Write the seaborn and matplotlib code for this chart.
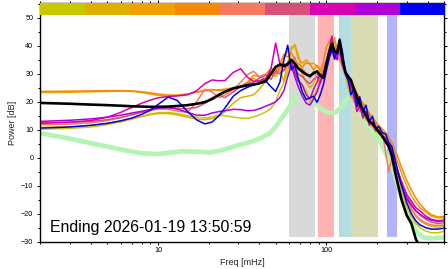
import numpy as np
import pandas as pd
import matplotlib
matplotlib.use("Agg")
import matplotlib.pyplot as plt
from matplotlib.ticker import LogLocator, MultipleLocator, NullFormatter, FixedLocator, FixedFormatter
import seaborn as sns

# ---------------- data ----------------
freq = [2, 3, 4, 5, 6, 7, 8, 9, 10, 11.5, 13, 15, 17, 19, 21, 23, 25, 28, 31, 34, 37, 40,
        44, 47, 50, 53, 56, 59, 62, 65, 68, 72, 76, 80, 84, 88, 92, 96, 100,
        104, 108, 112, 116, 120, 125, 130, 135, 140, 146, 152, 158, 165, 172, 180, 188, 196,
        205, 215, 225, 235, 245, 255, 265, 280, 300, 320, 340, 360, 390, 420, 460, 500]

yellow = [10.2, 10.5, 11.0, 11.8, 12.8, 13.8, 14.8, 15.6, 16.1, 16.2, 15.8, 15.0, 14.5, 14.2, 14.6, 15.2, 15.0, 14.5, 14.2, 14.1, 14.6, 15.3,
          16.5, 17.7, 20.0, 24.0, 27.0, 31.0, 34.5, 32.0, 28.5, 26.0, 24.0, 19.5, 22.0, 24.5, 28.0, 31.0, 34.0,
          37.0, 39.0, 38.0, 36.5, 38.5, 33.0, 29.0, 25.0, 21.5, 22.0, 19.0, 17.5, 15.0, 14.0, 12.0, 11.0, 9.5,
          8.5, 7.0, 5.5, 4.0, 1.5, -2.5, -6.5, -12.0, -17.5, -21.0, -23.5, -25.0, -26.2, -26.8, -26.8, -26.3]

goldenrod = [10.8, 11.1, 11.6, 12.3, 13.1, 14.0, 14.8, 15.4, 15.8, 15.8, 15.3, 14.5, 13.8, 13.6, 14.0, 14.8, 16.5, 19.5, 21.5, 22.0, 22.5, 24.5,
             27.5, 30.0, 29.0, 31.5, 27.3, 34.0, 38.5, 40.5, 37.0, 30.0, 27.0, 25.0, 26.5, 29.5, 31.0, 30.0, 32.5,
             36.0, 39.5, 41.5, 37.0, 38.0, 34.0, 30.5, 27.5, 25.0, 23.5, 20.5, 19.0, 16.5, 15.0, 13.5, 12.0, 10.8,
             9.5, 8.0, 6.5, 5.0, 2.8, -0.5, -4.0, -9.0, -14.5, -18.5, -21.0, -22.5, -23.8, -24.5, -24.8, -24.5]

orange = [23.3, 23.4, 23.6, 23.7, 23.8, 23.7, 23.3, 22.8, 22.3, 22.0, 22.2, 22.8, 23.5, 24.2, 24.4, 24.0, 24.0, 24.6, 25.5, 26.5, 28.5, 27.0,
          28.5, 31.0, 30.0, 32.0, 35.5, 38.0, 39.5, 40.0, 35.5, 33.8, 35.0, 33.5, 33.8, 32.8, 32.0, 28.0, 33.0,
          37.5, 41.0, 43.0, 38.5, 37.0, 32.5, 29.5, 28.0, 26.0, 24.5, 22.0, 20.5, 18.5, 16.8, 15.5, 13.5, 12.0,
          10.5, 9.0, 7.5, 6.0, 3.8, 1.0, -1.5, -5.5, -10.0, -13.5, -16.0, -17.8, -19.5, -20.8, -21.5, -21.5]

darkorange = [23.7, 23.8, 23.9, 24.0, 24.0, 23.9, 23.6, 23.2, 22.8, 22.4, 22.4, 22.8, 23.4, 23.9, 24.2, 24.3, 24.5, 25.0, 25.5, 27.0, 29.5, 29.0,
              30.0, 32.0, 31.0, 33.5, 37.0, 36.0, 37.5, 35.0, 33.5, 32.5, 34.0, 33.5, 31.5, 33.0, 31.0, 34.0, 39.5,
              41.5, 42.8, 38.0, 40.0, 38.5, 33.0, 30.0, 28.5, 27.0, 25.5, 23.0, 21.0, 19.5, 17.8, 16.0, 14.5, 13.0,
              11.5, 10.3, 9.0, 7.5, 5.5, 3.0, 0.5, -3.5, -8.0, -11.5, -14.3, -16.5, -18.8, -20.3, -21.2, -21.0]

salmon = [11.8, 12.0, 12.5, 13.3, 14.3, 15.5, 16.5, 17.2, 17.5, 17.3, 16.7, 16.2, 20.0, 24.5, 23.5, 21.5, 22.5, 24.3, 27.0, 29.7, 30.9, 29.0,
          28.0, 31.0, 30.0, 32.5, 31.0, 33.5, 33.0, 36.0, 31.5, 32.0, 30.0, 28.5, 31.0, 29.0, 28.0, 32.0, 35.0,
          36.5, 37.5, 39.0, 36.0, 35.0, 32.0, 29.5, 28.5, 24.0, 20.0, 23.0, 16.5, 19.0, 13.5, 15.5, 11.0, 12.5,
          8.5, 9.5, 2.0, -5.0, 0.0, -1.5, -4.5, -9.5, -14.5, -18.0, -20.5, -22.0, -23.3, -24.0, -24.2, -24.0]

pink = [12.5, 12.7, 13.0, 13.6, 14.4, 15.3, 16.2, 16.9, 17.5, 17.8, 17.6, 17.5, 18.0, 19.5, 21.5, 22.3, 21.5, 23.5, 25.5, 26.5, 27.0, 28.5,
        29.5, 28.0, 31.0, 30.0, 31.5, 33.0, 31.5, 32.0, 30.0, 29.0, 27.5, 26.5, 28.0, 29.0, 26.5, 30.0, 34.0,
        38.0, 40.0, 37.5, 38.5, 37.0, 33.0, 30.0, 27.5, 26.0, 21.5, 18.0, 19.5, 14.0, 16.5, 11.5, 13.0, 9.5,
        10.0, 7.0, 7.5, 4.0, 2.0, -2.0, -5.0, -9.0, -13.5, -16.5, -18.8, -20.5, -22.0, -23.0, -23.5, -23.2]

magenta = [12.3, 12.7, 13.3, 14.5, 16.2, 18.0, 19.5, 20.6, 21.4, 21.9, 22.1, 22.5, 24.0, 26.5, 27.8, 27.5, 27.6, 30.5, 31.8, 28.8, 27.3, 27.5,
           28.5, 32.0, 41.0, 33.5, 33.5, 33.0, 34.0, 30.5, 27.5, 26.0, 22.5, 21.0, 24.5, 27.0, 30.0, 29.0, 33.0,
           38.5, 43.5, 36.5, 38.0, 40.0, 33.5, 31.0, 28.0, 25.5, 22.0, 16.5, 18.5, 14.5, 16.0, 12.0, 12.5, 10.0,
           9.5, 7.5, 6.5, 5.0, 2.5, -1.0, -4.5, -8.5, -13.0, -15.5, -17.8, -19.0, -20.8, -22.0, -22.5, -22.3]

purple = [13.0, 13.4, 13.9, 14.5, 15.2, 16.0, 16.6, 17.2, 17.8, 18.0, 17.4, 16.2, 15.2, 15.2, 16.0, 16.5, 16.8, 17.3, 17.2, 16.8, 16.9, 17.5,
          18.5, 19.2, 20.0, 21.5, 24.0, 29.0, 33.0, 29.0, 25.5, 22.0, 19.5, 18.8, 21.0, 23.5, 27.0, 30.0, 33.0,
          36.5, 40.0, 37.0, 35.0, 39.5, 34.0, 30.0, 28.5, 26.5, 23.0, 19.0, 20.0, 15.5, 16.5, 13.0, 12.0, 10.5,
          9.0, 8.0, 6.0, 4.5, 2.0, -2.0, -5.5, -10.0, -14.5, -17.0, -19.0, -20.2, -21.5, -22.3, -22.8, -22.5]

blue = [10.6, 11.0, 11.6, 12.3, 13.2, 14.2, 15.5, 17.0, 19.0, 21.7, 20.5, 16.5, 13.5, 12.1, 12.8, 15.0, 17.8, 22.0, 24.0, 25.2, 26.0, 26.5,
        27.2, 25.3, 23.7, 27.0, 35.0, 40.2, 31.5, 33.0, 28.5, 23.5, 20.8, 21.5, 22.0, 19.8, 22.5, 26.0, 31.0,
        35.5, 38.7, 35.2, 38.0, 42.5, 37.5, 30.0, 27.5, 22.5, 24.8, 18.3, 21.8, 16.5, 18.8, 13.0, 14.8, 10.5,
        11.2, 9.0, 8.5, 5.5, 4.0, 0.0, -4.5, -10.0, -16.0, -20.0, -22.5, -24.0, -25.0, -25.5, -25.5, -25.2]

black = [19.6, 19.3, 19.0, 18.8, 18.6, 18.4, 18.3, 18.2, 18.2, 18.3, 18.5, 18.8, 19.3, 19.9, 21.0, 22.5, 23.6, 24.8, 25.4, 25.9, 26.2, 26.6,
         27.6, 30.0, 32.5, 33.3, 32.7, 33.6, 35.0, 33.6, 32.0, 30.8, 29.8, 29.2, 30.2, 30.9, 29.3, 28.6, 33.5,
         37.8, 40.8, 38.0, 37.5, 42.0, 35.0, 30.5, 29.0, 27.8, 24.5, 22.0, 19.0, 17.2, 15.2, 13.0, 12.2, 10.8,
         9.3, 7.8, 5.8, 4.0, 0.8, -4.5, -9.0, -15.0, -20.5, -23.5, -29.0, -32.0, -34.0, -34.0, -34.0, -34.0]

green_freq = [2, 3, 4, 5, 6, 7, 8, 10, 12, 14, 17, 20, 23, 26, 30, 34, 40, 46, 50, 54, 58, 62, 66, 70, 74,
              78, 84, 90, 96, 102, 108, 114, 120, 126, 132, 138, 142, 150, 160, 175, 190, 210, 226,
              250, 270, 290, 320, 350, 380, 420, 460, 500]
green = [8.8, 6.8, 5.2, 4.0, 3.0, 2.2, 1.6, 1.3, 1.9, 2.3, 2.2, 1.9, 2.4, 3.3, 4.5, 5.3, 6.8, 8.7, 11.0, 14.0, 16.5, 19.5, 21.5, 22.8, 23.0,
         21.5, 19.8, 18.3, 17.0, 16.2, 15.9, 16.3, 17.5, 19.0, 20.7, 22.5, 23.3, 20.0, 16.0, 12.0, 9.0, 5.5, 1.5,
         -4.0, -11.0, -17.0, -23.0, -27.0, -28.5, -28.8, -28.6, -28.5]

series_names = ["yellow", "goldenrod", "orange", "darkorange", "salmon", "pink", "magenta", "purple", "blue", "black"]
series_values = [yellow, goldenrod, orange, darkorange, salmon, pink, magenta, purple, blue, black]
series_colors = ["#c8c800", "#dcb000", "#f0a000", "#f88800", "#f87860", "#d85078", "#d800b0", "#b000d8", "#0000f0", "#000000"]

bar_colors = ["#c8c800", "#dcb000", "#f0a000", "#f88800", "#f87860", "#d85078", "#d800b0", "#b000d8", "#0000f0"]

band_lo = [60.3, 89.5, 119.0, 140.6, 228.0]
band_hi = [86.0, 110.7, 140.6, 201.8, 262.0]
band_colors = ["#d9d9d9", "#ffb3b3", "#b3dde0", "#d9dbb5", "#b3b3ff"]

x_major = [10, 100]
x_major_labels = ["10", "100"]
title_text = "Ending 2026-01-19 13:50:59"

# ---------------- plot ----------------
sns.set_style("ticks")
plt.rcParams["font.family"] = ["Liberation Sans", "DejaVu Sans"]
plt.rcParams["axes.unicode_minus"] = True

fig = plt.figure(figsize=(4.48, 2.69), dpi=100)
ax = fig.add_axes([0.090, 0.1015, 0.901, 0.8862])

for lo, hi, c in zip(band_lo, band_hi, band_colors):
    ax.axvspan(lo, hi, ymin=0.02, ymax=1.0, color=c, lw=0, zorder=0)

sns.lineplot(x=green_freq, y=green, ax=ax, color="#b4f5b4", lw=3.4, zorder=1)

rows = []
for name, vals in zip(series_names, series_values):
    for f, v in zip(freq, vals):
        rows.append((f, v, name))
df = pd.DataFrame(rows, columns=["freq", "power", "series"])

colored = df[df.series != "black"]
sns.lineplot(data=colored, x="freq", y="power", hue="series", hue_order=series_names[:-1],
             palette=series_colors[:-1], estimator=None, lw=1.1, ax=ax, legend=False, zorder=2)
sns.lineplot(data=df[df.series == "black"], x="freq", y="power", color="black",
             estimator=None, lw=1.9, ax=ax, legend=False, zorder=3)

ax.set_xscale("log")
ax.set_xlim(2, 500)
ax.set_ylim(-30, 55.2)

ax.xaxis.set_major_locator(FixedLocator(x_major))
ax.xaxis.set_major_formatter(FixedFormatter(x_major_labels))
ax.xaxis.set_minor_locator(LogLocator(base=10, subs=np.arange(2, 10)))
ax.xaxis.set_minor_formatter(NullFormatter())
ax.yaxis.set_major_locator(FixedLocator([-30, -20, -10, 0, 10, 20, 30, 40, 50]))
ax.yaxis.set_minor_locator(MultipleLocator(5))

for s in ax.spines.values():
    s.set_visible(True)
    s.set_linewidth(1.0)
    s.set_color("black")

ax.tick_params(which="both", direction="out", top=True, right=True, labelsize=5.2,
               colors="black", width=0.7)
ax.tick_params(which="major", length=2.5, pad=1.5)
ax.tick_params(which="minor", length=1.4)
ax.tick_params(axis="y", pad=2.5)

ax.set_xlabel("Freq [mHz]", fontsize=6.5, labelpad=3)
ax.set_ylabel("Power [dB]", fontsize=6.5, labelpad=3)

ax.text(0.024, 0.042, title_text, transform=ax.transAxes, fontsize=11.4, ha="left",
        va="baseline", color="black", zorder=5)

# colour bar on top
axb = fig.add_axes([0.090, 0.944, 0.903, 0.0435])
axb.bar(np.arange(len(bar_colors)), [1] * len(bar_colors), width=1.0, align="edge",
        color=bar_colors, lw=0)
axb.set_xlim(0, len(bar_colors))
axb.set_ylim(0, 1)
axb.axis("off")

fig.savefig("out.png", dpi=100)
